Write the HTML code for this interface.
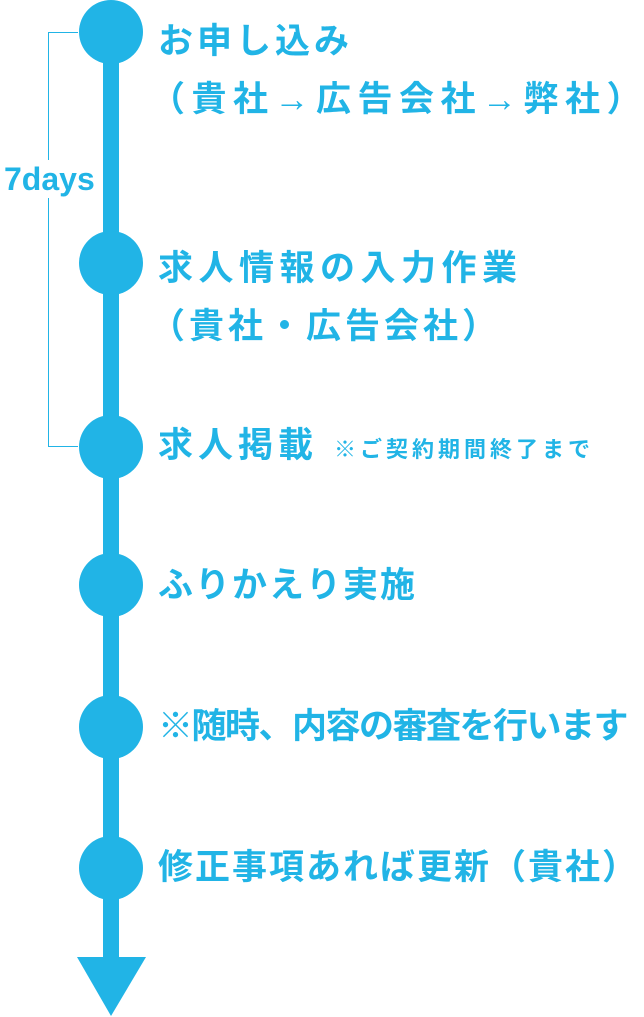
<!DOCTYPE html>
<html><head><meta charset="utf-8"><style>
body{margin:0;width:644px;height:1017px;background:#fff;position:relative;overflow:hidden;font-family:"Liberation Sans","Noto Sans CJK JP",sans-serif;color:#21b4e6;font-weight:bold}
.t{position:absolute;left:158px;font-size:35px;line-height:35px;white-space:nowrap}
.c{position:absolute;left:79px;width:64px;height:64px;border-radius:50%;background:#21b4e6}
</style></head><body>
<div style="position:absolute;left:48px;top:32px;width:30px;height:415px;border:1.5px solid #21b4e6;border-right:none;box-sizing:border-box"></div>
<div style="position:absolute;left:0;top:160px;background:#fff;font-size:32px;line-height:38px;padding:0 4px 0 4px">7days</div>
<div style="position:absolute;left:103px;top:30px;width:16px;height:930px;background:#21b4e6"></div>
<svg style="position:absolute;left:0;top:0" width="644" height="1017"><polygon points="77,957 146,957 111,1016" fill="#21b4e6"/></svg>
<div class="c" style="top:0"></div>
<div class="c" style="top:231px"></div>
<div class="c" style="top:415px"></div>
<div class="c" style="top:553px"></div>
<div class="c" style="top:695px"></div>
<div class="c" style="top:836px"></div>
<div class="t" style="top:24px;letter-spacing:4px">お申し込み</div>
<div class="t" style="top:82px;left:150px;letter-spacing:6.5px">（貴社→広告会社→弊社）</div>
<div class="t" style="top:251px;letter-spacing:5.5px">求人情報の入力作業</div>
<div class="t" style="top:309px;left:150px;letter-spacing:4px">（貴社・広告会社）</div>
<div class="t" style="top:428px;letter-spacing:5px">求人掲載<span style="font-size:22px;letter-spacing:4px;margin-left:16px">※ご契約期間終了まで</span></div>
<div class="t" style="top:568px;letter-spacing:2px">ふりかえり実施</div>
<div class="t" style="top:709px;letter-spacing:-1.5px">※随時、内容の審査を行います</div>
<div class="t" style="top:850px;letter-spacing:2px">修正事項あれば更新（貴社）</div>
</body></html>
